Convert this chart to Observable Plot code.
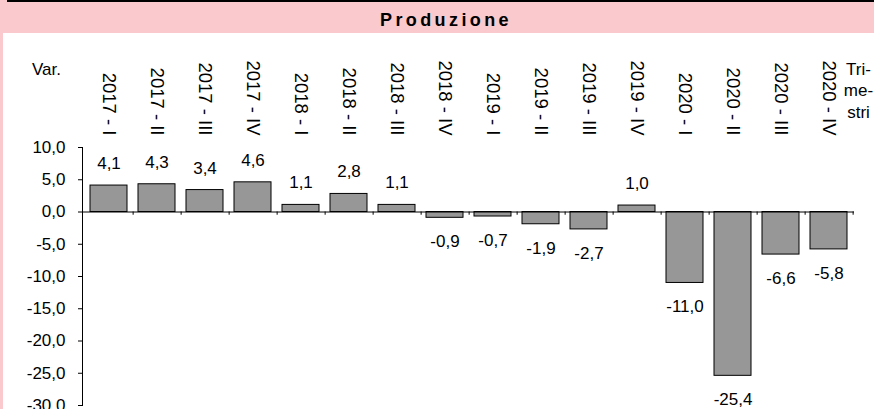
<!DOCTYPE html>
<html>
<head>
<meta charset="utf-8">
<script src="https://cdn.jsdelivr.net/npm/d3@7"></script>
<script src="https://cdn.jsdelivr.net/npm/@observablehq/plot@0.6"></script>
<style>
  html, body { margin: 0; padding: 0; background: #fff; }
  #wrap { position: relative; width: 874px; height: 409px; overflow: hidden; background: #fff; font-family: "Liberation Sans", Arial, sans-serif; }
  #head { position: absolute; left: 0; top: 0; width: 874px; height: 33px; background: #f9c9cd; }
  #bar { position: absolute; left: 7px; top: 0; right: 0; height: 2px; background: #000; }
  #title { position: absolute; left: 0; top: 0; width: 874px; height: 33px; line-height: 40px; text-align: center; font-weight: bold; font-size: 18px; letter-spacing: 3.4px; padding-left: 18px; box-sizing: border-box; color: #000; }
  #side { position: absolute; left: 0; top: 33px; width: 3px; bottom: 0; background: #f9c9cd; }
  #chart { position: absolute; left: 3px; top: 33px; }
</style>
</head>
<body>
<div id="wrap">
  <div id="head"></div>
  <div id="bar"></div>
  <div id="title">Produzione</div>
  <div id="side"></div>
  <div id="chart"></div>
</div>
<script>
const categories = ["2017 - I","2017 - II","2017 - III","2017 - IV","2018 - I","2018 - II","2018 - III","2018 - IV","2019 - I","2019 - II","2019 - III","2019 - IV","2020 - I","2020 - II","2020 - III","2020 - IV"];
const values = [4.1, 4.3, 3.4, 4.6, 1.1, 2.8, 1.1, -0.9, -0.7, -1.9, -2.7, 1.0, -11.0, -25.4, -6.6, -5.8];
const yTicks = [10, 5, 0, -5, -10, -15, -20, -25, -30];
const yLabel = "Var.";
const xLabel = "Tri-\nme-\nstri";

const data = categories.map((c, i) => ({cat: c, v: values[i]}));
const pos = data.filter(d => d.v >= 0);
const neg = data.filter(d => d.v < 0);
const fmt = v => v.toFixed(1).replace(".", ",");

const W = 871, H = 376;
const mL = 79, mR = 20, mT = 114, mB = 4;
const step = (W - mL - mR) / categories.length;

const chart = Plot.plot({
  width: W,
  height: H,
  marginLeft: mL,
  marginRight: mR,
  marginTop: mT,
  marginBottom: mB,
  style: {fontFamily: "'Liberation Sans', Arial, sans-serif", fontSize: "17px", color: "#000", background: "transparent"},
  x: {type: "band", domain: categories, paddingInner: 0.23, paddingOuter: 0.115, axis: null},
  y: {domain: [-30, 10], axis: null},
  marks: [
    Plot.barY(data, {x: "cat", y: "v", fill: "#979797", stroke: "#000", strokeWidth: 1}),
    Plot.ruleY([0], {stroke: "#000", strokeWidth: 1}),
    Plot.ruleX(categories, {x: d => d, y1: 0, y2: -0.5, dx: step / 2, stroke: "#000"}),
    Plot.frame({anchor: "left", stroke: "#000"}),
    Plot.axisY({ticks: yTicks, tickFormat: fmt, tickSize: 4, tickPadding: 13, fontSize: 17, stroke: "#000", label: null}),
    Plot.text(pos, {x: "cat", y: "v", text: d => fmt(d.v), dy: -22, textAnchor: "middle", fontSize: 17, fill: "#000"}),
    Plot.text(neg, {x: "cat", y: "v", text: d => fmt(d.v), dy: 24, textAnchor: "middle", fontSize: 17, fill: "#000"}),
    Plot.text(categories, {x: d => d, y: () => 10, text: d => d, rotate: 90, textAnchor: "end", dy: -12, fontSize: 18.5, fill: "#000"}),
    Plot.text([yLabel], {frameAnchor: "top-left", text: d => d, dx: -36, dy: -78, textAnchor: "middle", lineAnchor: "middle", fontSize: 17, fill: "#000"}),
    Plot.text([xLabel], {frameAnchor: "top-right", text: d => d, dx: 4, dy: -88, textAnchor: "middle", lineAnchor: "top", lineHeight: 1.27, fontSize: 17, fill: "#000"})
  ]
});
document.getElementById("chart").appendChild(chart);
</script>
</body>
</html>
